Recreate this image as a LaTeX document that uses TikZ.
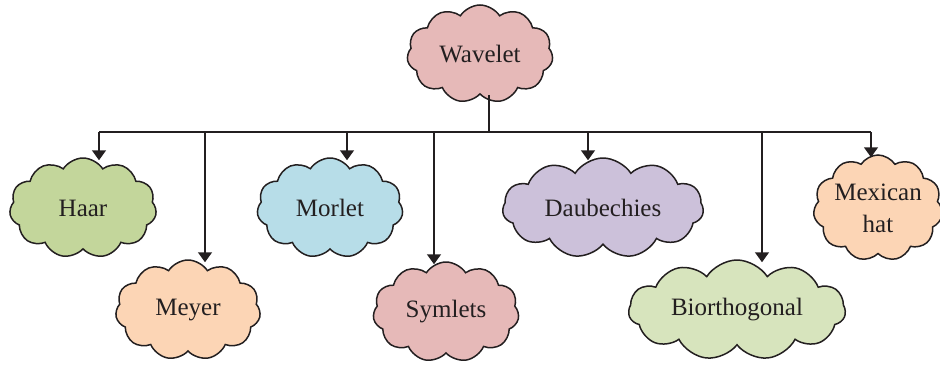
\documentclass[tikz,border=0pt]{standalone}
\usepackage{fontspec}
\setmainfont{Liberation Serif}
\usetikzlibrary{shapes.symbols,arrows.meta}
\definecolor{wavpink}{HTML}{E6B9B8}
\definecolor{haargreen}{HTML}{C3D69B}
\definecolor{peach}{HTML}{FCD5B5}
\definecolor{morblue}{HTML}{B7DDE8}
\definecolor{lavender}{HTML}{CCC1DA}
\definecolor{biogreen}{HTML}{D7E4BD}
\definecolor{ink}{HTML}{231F20}
\tikzset{
  cloudbox/.style={cloud, cloud puffs=11, cloud puff arc=115, cloud ignores aspect,
    draw=ink, line width=1.5pt, inner sep=0pt, text=ink, align=center,
    font=\fontsize{25}{32}\selectfont},
  link/.style={draw=ink, line width=1.5pt},
  arrowlink/.style={link, -{Triangle[width=14pt,length=10pt]}},
}
\begin{document}
\begin{tikzpicture}[x=1pt,y=1pt]
\useasboundingbox (0,0) rectangle (940,-369);
% root and children
\node[cloudbox, fill=wavpink, minimum width=146, minimum height=98] (wav) at (480,-54) {Wavelet};
\node[cloudbox, fill=haargreen, minimum width=147, minimum height=100] (haar) at (83,-208) {Haar};
\node[cloudbox, fill=peach, minimum width=145, minimum height=100] (meyer) at (188,-310) {Meyer};
\node[cloudbox, fill=morblue, minimum width=146, minimum height=100] (morlet) at (330,-208) {Morlet};
\node[cloudbox, fill=wavpink, minimum width=146, minimum height=100] (sym) at (446,-312) {Symlets};
\node[cloudbox, fill=lavender, minimum width=201, minimum height=100] (daub) at (603,-208) {Daubechies};
\node[cloudbox, fill=biogreen, minimum width=217, minimum height=100] (bio) at (737,-310) {Biorthogonal};
\node[cloudbox, fill=peach, minimum width=128, minimum height=106] (mex) at (878,-208) {Mexican\\hat};
% bus
\coordinate (stem) at (489,-132);
\coordinate (jhaar) at (99,-132);
\coordinate (jmeyer) at (205,-132);
\coordinate (jmorlet) at (347,-132);
\coordinate (jsym) at (434,-132);
\coordinate (jdaub) at (588,-132);
\coordinate (jbio) at (762,-132);
\coordinate (jmex) at (871,-132);
\draw[link] (wav.south -| stem) -- (stem);
\draw[link] (jhaar) -- (jmex);
\draw[arrowlink] (jhaar) -- ([yshift=-3pt]jhaar |- haar.north);
\draw[arrowlink] (jmeyer) -- ([yshift=-3pt]jmeyer |- meyer.north);
\draw[arrowlink] (jmorlet) -- ([yshift=-3pt]jmorlet |- morlet.north);
\draw[arrowlink] (jsym) -- ([yshift=-3pt]jsym |- sym.north);
\draw[arrowlink] (jdaub) -- ([yshift=-3pt]jdaub |- daub.north);
\draw[arrowlink] (jbio) -- ([yshift=-3pt]jbio |- bio.north);
\draw[arrowlink] (jmex) -- ([yshift=-3pt]jmex |- mex.north);
\end{tikzpicture}
\end{document}
